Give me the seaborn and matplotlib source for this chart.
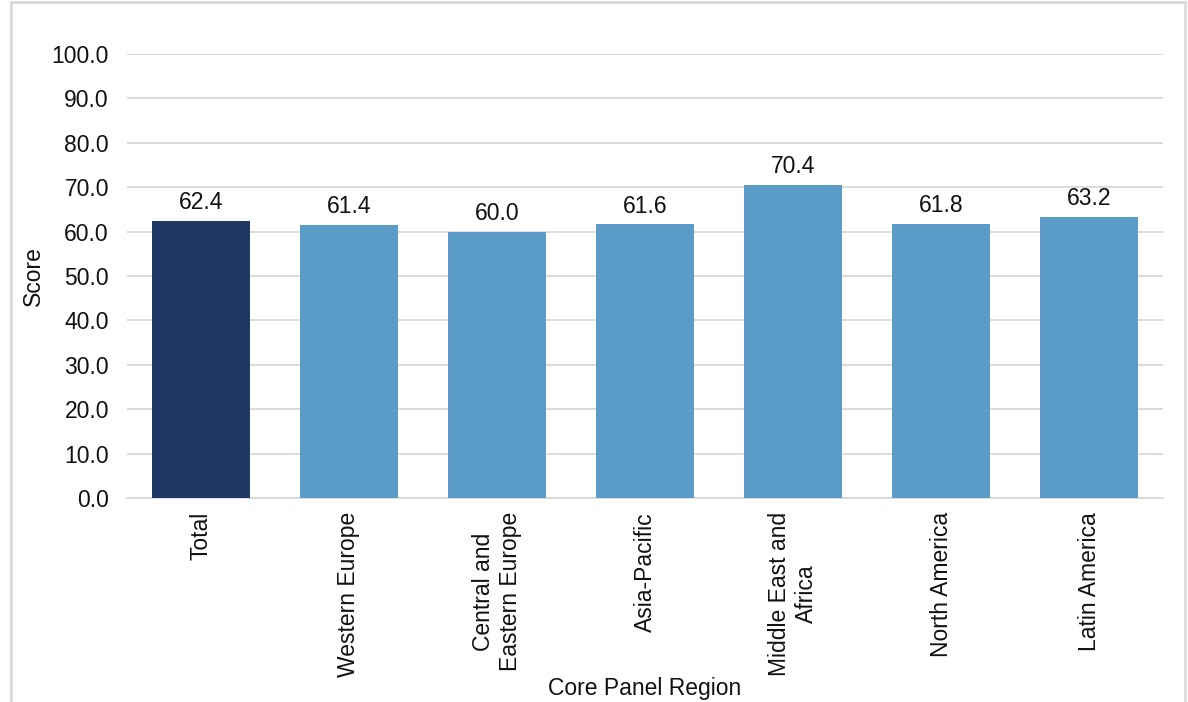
import matplotlib
matplotlib.use("Agg")
import matplotlib.pyplot as plt
from matplotlib.patches import Rectangle
import seaborn as sns
import pandas as pd

regions = ["Total", "Western Europe", "Central and\nEastern Europe", "Asia-Pacific",
           "Middle East and\nAfrica", "North America", "Latin America"]
scores = [62.4, 61.4, 60.0, 61.6, 70.4, 61.8, 63.2]
bar_colors = ["#203864", "#5B9BC8", "#5B9BC8", "#5B9BC8", "#5B9BC8", "#5B9BC8", "#5B9BC8"]
y_ticks = [0, 10, 20, 30, 40, 50, 60, 70, 80, 90, 100]

sns.set_theme(style="white")
plt.rcParams["font.family"] = ["Liberation Sans", "DejaVu Sans"]

FS = 16.5
TXT = "#111111"

df = pd.DataFrame({"region": regions, "score": scores})

fig = plt.figure(figsize=(11.88, 7.02), dpi=100)
ax = fig.add_axes([127 / 1188, 1 - 498 / 702, (1163 - 127) / 1188, (498 - 54) / 702])

sns.barplot(data=df, x="region", y="score", hue="region", palette=bar_colors,
            order=regions, hue_order=regions, legend=False, width=0.66,
            saturation=1, edgecolor="none", ax=ax, zorder=3)

for container in ax.containers:
    ax.bar_label(container, fmt="%.1f", padding=5, fontsize=FS, color=TXT)

ax.set_ylim(0, 100)
ax.set_xlim(-0.5, len(regions) - 0.5)
ax.set_yticks(y_ticks)
ax.set_yticklabels([f"{v:.1f}" for v in y_ticks])
ax.yaxis.grid(True, color="#D9D9D9", linewidth=1.3, zorder=0)
ax.xaxis.grid(False)
for side in ["top", "right", "left"]:
    ax.spines[side].set_visible(False)
ax.spines["bottom"].set_color("#D9D9D9")
ax.spines["bottom"].set_linewidth(1.3)

ax.tick_params(axis="y", length=0, pad=13, labelsize=FS, labelcolor=TXT)
ax.tick_params(axis="x", length=0, pad=10, labelsize=FS, labelcolor=TXT)
for lbl in ax.get_xticklabels():
    lbl.set_rotation(90)
    lbl.set_ha("center")
    lbl.set_va("top")
    lbl.set_multialignment("center")

ax.set_ylabel("Score", fontsize=FS, color=TXT)
ax.yaxis.set_label_coords(-(127 - 45) / 1036, 0.5)
ax.set_xlabel("Core Panel Region", fontsize=FS, color=TXT)
ax.xaxis.set_label_coords(0.5, -(688 - 498) / 444, transform=ax.transAxes)
ax.xaxis.label.set_va("center")

# light outer frame
fig.patches.append(Rectangle((11 / 1188, -0.02), (1185 - 11) / 1188, 1.02 - 1.5 / 702,
                             transform=fig.transFigure, fill=False,
                             edgecolor="#D9D9D9", linewidth=2))

fig.savefig("out.png", dpi=100)
